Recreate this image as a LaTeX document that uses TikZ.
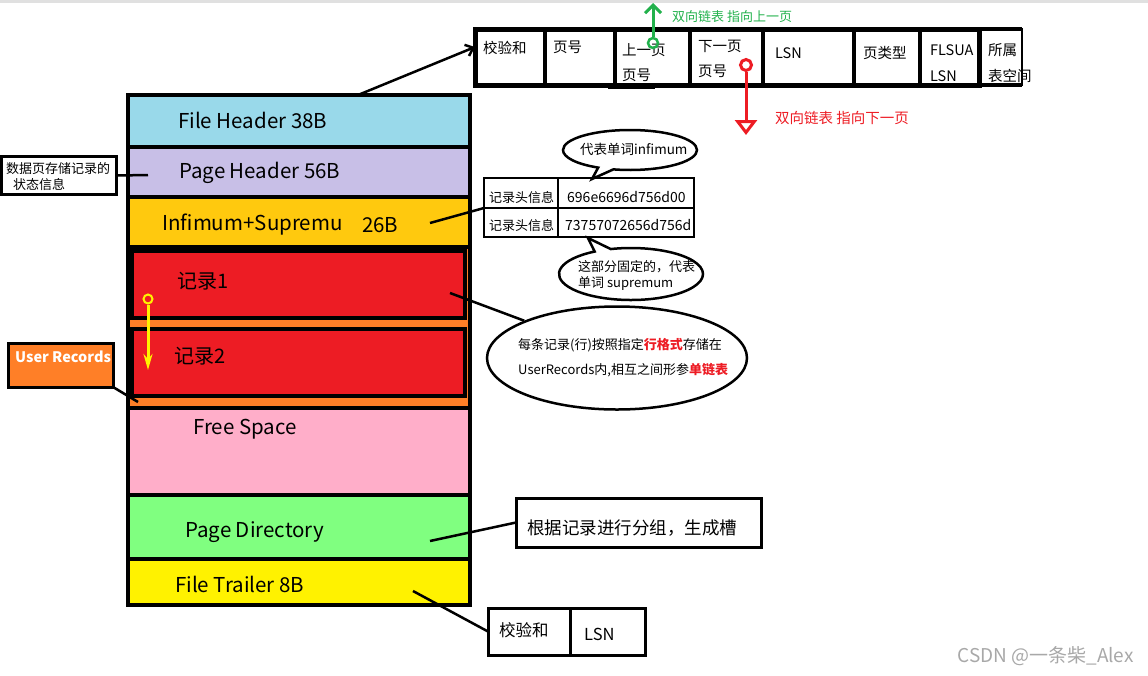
\documentclass[tikz,border=0pt]{standalone}
\usepackage{fontspec}
\setmainfont{Noto Sans CJK SC}
\usetikzlibrary{positioning,arrows.meta,shapes.geometric,shapes.callouts}

\definecolor{fhblue}{HTML}{99D9EA}
\definecolor{phlilac}{HTML}{C8BFE7}
\definecolor{infgold}{HTML}{FFC90E}
\definecolor{urorange}{HTML}{FF7F27}
\definecolor{recred}{HTML}{ED1C24}
\definecolor{fspink}{HTML}{FFAEC9}
\definecolor{pdgreen}{HTML}{80FF80}
\definecolor{ftyellow}{HTML}{FFF200}
\definecolor{linkgreen}{HTML}{22B14C}
\definecolor{markgray}{HTML}{A8A8A8}

\tikzset{
  layer/.style={draw, line width=3.5pt, anchor=north west, minimum width=342, inner sep=0pt, outer sep=0pt},
  rec/.style={draw, line width=3.5pt, fill=recred, anchor=north west, minimum width=333, minimum height=67, inner sep=0pt},
  hcell/.style={draw, line width=3.5pt, minimum height=56, inner sep=0pt, outer sep=0pt},
  tbox/.style={draw, line width=3pt, anchor=north west, inner sep=0pt, outer sep=0pt},
  bubble/.style={ellipse callout, draw, line width=2.5pt, inner sep=0pt, callout pointer arc=14},
  link/.style={line width=2.5pt},
  bigtxt/.style={anchor=west, inner sep=0pt, font=\fontsize{20.5}{24}\selectfont},
  rectxt/.style={anchor=west, inner sep=0pt, font=\fontsize{20}{24}\selectfont},
  celltxt/.style={anchor=west, inner sep=0pt, align=left, font=\fontsize{14.5}{25.5}\selectfont},
  notetxt/.style={anchor=west, inner sep=0pt, align=left, font=\fontsize{13}{16}\selectfont},
  valtxt/.style={anchor=west, inner sep=0pt, font=\fontsize{14}{17}\selectfont},
}

\begin{document}
\begin{tikzpicture}[x=1pt,y=-1pt]
\useasboundingbox (0,0) rectangle (1148,675);
\fill[black!12] (0,0) rectangle (1148,3);

% page layout
\node[layer, fill=fhblue, minimum height=52] (fh) at (128,95) {};
\node[layer, fill=phlilac, minimum height=50, below=0pt of fh] (ph) {};
\node[layer, fill=infgold, minimum height=50, below=0pt of ph] (inf) {};
\node[layer, fill=urorange, minimum height=161, below=0pt of inf] (ur) {};
\node[layer, fill=fspink, minimum height=87, below=0pt of ur] (fs) {};
\node[layer, fill=pdgreen, minimum height=64, below=0pt of fs] (pd) {};
\node[layer, fill=ftyellow, minimum height=46, below=0pt of pd] (ft) {};
\node[rec] (rec1) at (130,249) {};
\node[rec] (rec2) at (130,327) {};

\node[bigtxt] (fhT) at (178,120.5) {File Header 38B};
\node[bigtxt] (phT) at (179,172.5) {Page Header 56B};
\node[bigtxt] (infT) at (162,225) {Infimum+Supremu};
\node[bigtxt] (infB) at (362,225.5) {26B};
\node[rectxt] (rec1T) at (177,281) {记录1};
\node[rectxt] (rec2T) at (174,356) {记录2};
\node[bigtxt] (fsT) at (193,429.5) {Free Space};
\node[bigtxt] (pdT) at (185,532.5) {Page Directory};
\node[bigtxt] (ftT) at (175,584) {File Trailer 8B};

\node[circle, draw=ftyellow, line width=2pt, minimum size=9, inner sep=0pt] (ydot) at (148,299) {};
\coordinate (ytip) at (148,370);
\draw[ftyellow, line width=3pt, -{Stealth[length=16pt,width=9pt]}] (ydot) -- (ytip);

% file header fields
\node[hcell, minimum width=70, anchor=north west] (hc1) at (475,29) {};
\node[hcell, minimum width=70, right=0pt of hc1] (hc2) {};
\node[hcell, minimum width=75, right=0pt of hc2] (hc3) {};
\node[hcell, minimum width=73, right=0pt of hc3] (hc4) {};
\node[hcell, minimum width=91, right=0pt of hc4] (hc5) {};
\node[hcell, minimum width=66, right=0pt of hc5] (hc6) {};
\node[hcell, minimum width=59, right=0pt of hc6] (hc7) {};
\node[hcell, minimum width=43, line width=2pt, right=0pt of hc7] (hc8) {};
\draw[line width=5pt] (hc1.north west) rectangle (hc7.south east);
\draw[line width=4.5pt] (hc7.north east) -- (hc8.north east);
\draw[line width=4.5pt] (hc7.south east) -- (hc8.south east);
\draw[line width=2pt] (608,88) -- (655,88);

\node[celltxt] (hc1T) at (483,48) {校验和};
\node[celltxt] (hc2T) at (553,47) {页号};
\node[celltxt] (hc3T) at (622,62.5) {上一页\\页号};
\node[celltxt] (hc4T) at (698,59) {下一页\\页号};
\node[celltxt] (hc5T) at (775,53) {LSN};
\node[celltxt] (hc6T) at (863,53) {页类型};
\node[celltxt] (hc7T) at (930,63) {FLSUA\\LSN};
\node[celltxt] (hc8T) at (988,63) {所属\\表空间};

\coordinate (fhtop) at (358,95);
\draw[link, -{Straight Barb[length=7pt,width=12pt]}] (fhtop) -- ([yshift=10pt]hc1.west);

\node[circle, draw=linkgreen, line width=2.5pt, minimum size=10, inner sep=0pt] (prevdot) at (653,43) {};
\coordinate (prevtip) at (653,3);
\draw[linkgreen, line width=3pt, -{Straight Barb[length=8pt,width=16pt]}] (prevdot) -- (prevtip);
\node[notetxt, text=linkgreen] (prevT) at (672,17) {双向链表 指向上一页};

\node[circle, draw=recred, line width=3pt, minimum size=11, inner sep=0pt] (nextdot) at (746,65) {};
\coordinate (nexttip) at (746,135);
\draw[recred, line width=3pt, -{Triangle[open, length=15pt, width=22pt]}] (nextdot) -- (nexttip);
\node[notetxt, text=recred, font=\fontsize{14.5}{17}\selectfont] (nextT) at (775,118) {双向链表 指向下一页};

% page header note
\node[tbox, minimum width=115, minimum height=38] (sbox) at (1.5,156.5) {};
\node[notetxt] (sboxT) at (6,177) {数据页存储记录的\\\hspace{7pt}状态信息};
\coordinate (phin) at (148,175);
\draw[link] (sbox.east) -- (phin);

% infimum / supremum
\node[tbox, line width=2.5pt, minimum width=74, minimum height=30] (rh1a) at (484,178) {};
\node[tbox, line width=2.5pt, minimum width=136, minimum height=30, right=0pt of rh1a] (rh1b) {};
\node[tbox, line width=2.5pt, minimum width=74, minimum height=29, below=0pt of rh1a] (rh2a) {};
\node[tbox, line width=2.5pt, minimum width=136, minimum height=29, right=0pt of rh2a] (rh2b) {};
\node[notetxt] (rh1aT) at (489,198) {记录头信息};
\node[notetxt] (rh2aT) at (489,226) {记录头信息};
\node[valtxt] (rh1bT) at (567,197) {696e6696d756d00};
\node[valtxt] (rh2bT) at (565,225) {73757072656d756d};
\coordinate (infin) at (430,223);
\draw[link] (infin) -- (rh2a.north west);

\node[bubble, minimum width=134, minimum height=40, callout absolute pointer={(592,179)}] (infb) at (630,150) {};
\node[notetxt, font=\fontsize{13.5}{16}\selectfont] (infbT) at (580,149) {代表单词infimum};
\node[bubble, minimum width=144, minimum height=52, callout absolute pointer={(588,238)}] (supb) at (631,274) {};
\node[notetxt] (supbT) at (578,275) {这部分固定的，代表\\单词 supremum};

% user records
\node[draw, ellipse, line width=2.5pt, minimum width=260, minimum height=103, inner sep=0pt] (rowell) at (617,358) {};
\node[notetxt, font=\fontsize{13}{25}\selectfont] (rowellT) at (518,357.5) {每条记录(行)按照指定\textcolor{recred}{\bfseries 行格式}存储在\\UserRecords内,相互之间形参\textcolor{recred}{\bfseries 单链表}};
\coordinate (recin) at (450,293);
\draw[link] (recin) -- (rowell.north west);

\node[tbox, fill=urorange, minimum width=105, minimum height=44] (urbox) at (8,343) {};
\node[anchor=west, inner sep=0pt, text=white, font=\fontsize{14.5}{17}\selectfont\bfseries] (urboxT) at (15,357) {User Records};
\coordinate (urin) at (138,402);
\draw[link] (urbox.south east) -- (urin);

% page directory / trailer
\node[tbox, minimum width=245, minimum height=49] (pdnote) at (516,498) {};
\node[notetxt, font=\fontsize{17.5}{20}\selectfont] (pdnoteT) at (527,528) {根据记录进行分组，生成槽};
\coordinate (pdin) at (430,541);
\draw[link] (pdin) -- (pdnote.west);

\node[tbox, minimum width=82, minimum height=47] (tr1) at (488,608) {};
\node[tbox, minimum width=75, minimum height=47, right=0pt of tr1] (tr2) {};
\node[notetxt, font=\fontsize{16.5}{20}\selectfont] (tr1T) at (499,630) {校验和};
\node[notetxt, font=\fontsize{16.5}{20}\selectfont] (tr2T) at (584,634) {LSN};
\coordinate (ftin) at (413,591);
\draw[link] (ftin) -- (tr1.west);

\node[anchor=east, inner sep=0pt, text=markgray, font=\fontsize{19}{22}\selectfont] (mark) at (1134,656) {CSDN @一条柴\_Alex};
\end{tikzpicture}
\end{document}
